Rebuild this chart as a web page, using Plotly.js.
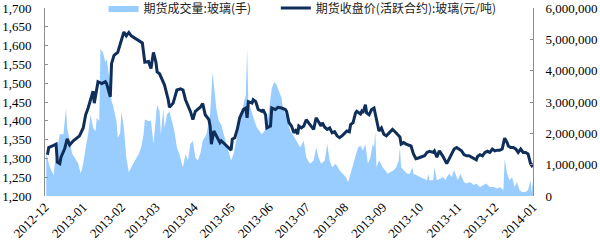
<!DOCTYPE html>
<html><head><meta charset="utf-8">
<script src="https://cdn.plot.ly/plotly-3.0.1.min.js"></script>
<style>html,body{margin:0;padding:0;background:#fff;}#chart{width:600px;height:244px;}</style>
</head><body><div id="chart"></div>
<script>
var volumeName = '期货成交量:玻璃(手)';
var priceName = '期货收盘价(活跃合约):玻璃(元/吨)';

var priceDates = ['2012-12-03','2012-12-04','2012-12-07','2012-12-10','2012-12-11','2012-12-13','2012-12-14','2012-12-17','2012-12-19','2012-12-21','2012-12-24','2012-12-27','2012-12-29',
'2013-01-01','2013-01-03','2013-01-05','2013-01-07','2013-01-09','2013-01-10','2013-01-12','2013-01-13','2013-01-16','2013-01-19','2013-01-20','2013-01-23','2013-01-24','2013-01-26','2013-01-29',
'2013-02-01','2013-02-03','2013-02-05','2013-02-07','2013-02-09','2013-02-13','2013-02-17','2013-02-18','2013-02-20','2013-02-23','2013-02-25','2013-02-27',
'2013-03-01','2013-03-02','2013-03-04','2013-03-07','2013-03-08','2013-03-11','2013-03-12','2013-03-15','2013-03-18','2013-03-21','2013-03-23','2013-03-25','2013-03-29','2013-03-31',
'2013-04-02','2013-04-06','2013-04-08','2013-04-10','2013-04-13','2013-04-14','2013-04-15','2013-04-17','2013-04-19','2013-04-21','2013-04-22','2013-04-23','2013-04-26','2013-04-29',
'2013-05-01','2013-05-02','2013-05-04','2013-05-06','2013-05-08','2013-05-11','2013-05-13','2013-05-14','2013-05-15','2013-05-18','2013-05-19','2013-05-21','2013-05-23','2013-05-26','2013-05-27','2013-05-29','2013-05-30',
'2013-06-02','2013-06-03','2013-06-06','2013-06-08','2013-06-11','2013-06-14','2013-06-15','2013-06-17','2013-06-19','2013-06-21','2013-06-23','2013-06-24','2013-06-25','2013-06-27','2013-06-29',
'2013-07-01','2013-07-04','2013-07-05','2013-07-07','2013-07-09','2013-07-11','2013-07-13','2013-07-14','2013-07-16','2013-07-18','2013-07-20','2013-07-22','2013-07-24','2013-07-26','2013-07-28','2013-07-30',
'2013-08-01','2013-08-03','2013-08-05','2013-08-06','2013-08-08','2013-08-10','2013-08-11','2013-08-14','2013-08-15','2013-08-16','2013-08-18','2013-08-19','2013-08-21','2013-08-23','2013-08-25','2013-08-26','2013-08-28','2013-08-29','2013-08-31',
'2013-09-02','2013-09-04','2013-09-06','2013-09-08','2013-09-09','2013-09-11','2013-09-13','2013-09-15','2013-09-16','2013-09-18','2013-09-20','2013-09-22','2013-09-24','2013-09-26','2013-09-28','2013-09-30',
'2013-10-03','2013-10-05','2013-10-07','2013-10-09','2013-10-12','2013-10-13','2013-10-15','2013-10-17','2013-10-19','2013-10-20','2013-10-23','2013-10-25','2013-10-27','2013-10-29','2013-10-31',
'2013-11-02','2013-11-04','2013-11-06','2013-11-08','2013-11-10','2013-11-12','2013-11-14','2013-11-16','2013-11-17','2013-11-19','2013-11-21','2013-11-23','2013-11-25','2013-11-27','2013-11-29',
'2013-12-01','2013-12-03','2013-12-05','2013-12-07','2013-12-09','2013-12-11','2013-12-12','2013-12-14','2013-12-16','2013-12-18','2013-12-20','2013-12-22','2013-12-24','2013-12-26','2013-12-28','2013-12-30','2013-12-31','2014-01-01'];

var priceValues = [1310,1329,1333,1338,1290,1286,1303,1326,1352,1336,1347,1355,1360,
1381,1416,1434,1460,1479,1447,1482,1504,1499,1504,1499,1464,1552,1574,1582,
1617,1636,1626,1635,1626,1617,1610,1607,1556,1558,1539,1582,
1556,1530,1525,1504,1495,1456,1436,1447,1482,1485,1482,1456,1425,1403,
1425,1436,1446,1416,1403,1386,1338,1373,1360,1347,1342,1347,1338,1329,
1322,1351,1355,1377,1408,1430,1434,1408,1451,1447,1456,1451,1430,1425,1430,1416,1381,
1386,1434,1430,1436,1434,1430,1425,1395,1386,1368,1377,1364,1386,1381,1386,
1403,1390,1386,1377,1408,1395,1386,1395,1383,1377,1381,1368,1371,1360,1355,1360,
1368,1373,1371,1390,1395,1421,1425,1418,1425,1421,1443,1421,1416,1430,1434,1416,1381,1373,1381,
1364,1360,1368,1373,1377,1371,1364,1357,1338,1342,1338,1336,1333,1312,1299,1301,
1305,1307,1316,1319,1316,1320,1303,1320,1310,1305,1286,1299,1312,1325,1329,
1325,1320,1310,1307,1307,1303,1301,1296,1305,1310,1307,1316,1319,1316,1325,
1320,1322,1322,1325,1354,1342,1333,1329,1329,1325,1316,1325,1316,1316,1312,1286,1281,1286];

var volumeDates = ['2012-12-02','2012-12-05','2012-12-08','2012-12-09','2012-12-12','2012-12-13','2012-12-16','2012-12-18','2012-12-19','2012-12-21','2012-12-23','2012-12-25','2012-12-28','2012-12-30',
'2013-01-01','2013-01-03','2013-01-05','2013-01-07','2013-01-09','2013-01-11','2013-01-12','2013-01-14','2013-01-15','2013-01-17','2013-01-19','2013-01-20','2013-01-21','2013-01-23','2013-01-24','2013-01-25','2013-01-28','2013-01-29','2013-01-31',
'2013-02-01','2013-02-03','2013-02-04','2013-02-05','2013-02-07','2013-02-09','2013-02-12','2013-02-15','2013-02-17','2013-02-19','2013-02-20','2013-02-23','2013-02-25','2013-02-27','2013-02-28',
'2013-03-02','2013-03-04','2013-03-05','2013-03-07','2013-03-08','2013-03-10','2013-03-12','2013-03-14','2013-03-16','2013-03-18','2013-03-20','2013-03-22','2013-03-23','2013-03-25','2013-03-27','2013-03-29','2013-03-31',
'2013-04-02','2013-04-04','2013-04-06','2013-04-08','2013-04-11','2013-04-14','2013-04-16','2013-04-17','2013-04-19','2013-04-21','2013-04-23','2013-04-25','2013-04-27','2013-04-30',
'2013-05-01','2013-05-03','2013-05-05','2013-05-07','2013-05-09','2013-05-11','2013-05-13','2013-05-14','2013-05-15','2013-05-18','2013-05-20','2013-05-22','2013-05-24','2013-05-26','2013-05-28','2013-05-30',
'2013-06-01','2013-06-03','2013-06-05','2013-06-07','2013-06-09','2013-06-11','2013-06-12','2013-06-15','2013-06-18','2013-06-20','2013-06-23','2013-06-26','2013-06-29',
'2013-07-01','2013-07-04','2013-07-07','2013-07-09','2013-07-11','2013-07-13','2013-07-16','2013-07-18','2013-07-20','2013-07-22','2013-07-25','2013-07-28','2013-07-31',
'2013-08-02','2013-08-04','2013-08-06','2013-08-08','2013-08-10','2013-08-12','2013-08-14','2013-08-16','2013-08-18','2013-08-20','2013-08-22','2013-08-24','2013-08-25','2013-08-26','2013-08-27','2013-08-29','2013-08-30',
'2013-09-01','2013-09-03','2013-09-05','2013-09-07','2013-09-10','2013-09-12','2013-09-14','2013-09-15','2013-09-16','2013-09-18','2013-09-21','2013-09-23','2013-09-25','2013-09-26','2013-09-29',
'2013-10-01','2013-10-04','2013-10-07','2013-10-08','2013-10-09','2013-10-12','2013-10-13','2013-10-15','2013-10-18','2013-10-20','2013-10-22','2013-10-23','2013-10-25','2013-10-27','2013-10-29','2013-10-31',
'2013-11-01','2013-11-03','2013-11-06','2013-11-08','2013-11-11','2013-11-14','2013-11-16','2013-11-19','2013-11-22','2013-11-24','2013-11-27','2013-11-30',
'2013-12-03','2013-12-05','2013-12-08','2013-12-09','2013-12-11','2013-12-13','2013-12-15','2013-12-17','2013-12-19','2013-12-21','2013-12-23','2013-12-26','2013-12-28','2013-12-30','2013-12-31','2014-01-01'];

var volumeValues = [1350000,920000,660000,1040000,1760000,1970000,1970000,2800000,2180000,1760000,1350000,1230000,1030000,710000,
1030000,1550000,1970000,2600000,2180000,2070000,2490000,2390000,4690000,4590000,4270000,4380000,4060000,3540000,3020000,2910000,2390000,1860000,2000000,
2700000,2180000,1760000,1230000,760000,920000,1130000,1340000,1550000,1970000,2440000,2390000,2390000,1660000,2180000,
2910000,2700000,1970000,2800000,2180000,2600000,2700000,2390000,2070000,1550000,1340000,1030000,920000,1340000,1130000,1660000,1760000,
1230000,1130000,1350000,1760000,1970000,2600000,3960000,3540000,2800000,2390000,2280000,1970000,1660000,1230000,
1130000,1340000,1760000,2070000,2490000,2910000,3230000,4690000,3020000,2600000,2390000,2180000,2070000,1970000,2070000,2180000,
2800000,3430000,3640000,3540000,3330000,3120000,2800000,2500000,2070000,1970000,1760000,1550000,1760000,
1230000,1030000,1130000,1550000,1230000,1030000,1130000,1660000,1130000,920000,1030000,820000,710000,
610000,450000,710000,1030000,1230000,1550000,1600000,1450000,1650000,1030000,1230000,1660000,1550000,2070000,920000,1130000,1080000,
920000,820000,710000,760000,820000,920000,1130000,1550000,920000,820000,710000,710000,920000,710000,660000,
610000,560000,500000,710000,500000,500000,920000,500000,560000,610000,500000,610000,710000,610000,820000,610000,
500000,710000,450000,400000,450000,350000,400000,290000,350000,400000,290000,290000,
240000,290000,190000,1180000,710000,500000,610000,290000,450000,190000,130000,130000,190000,500000,100000,500000];

var serif = 'Liberation Serif, Times New Roman, serif';
var cjk = 'Noto Sans CJK SC, sans-serif';

var traces = [
  {type:'scatter', mode:'lines', name: volumeName, x: volumeDates, y: volumeValues, yaxis:'y', xaxis:'x',
   fill:'tozeroy', fillcolor:'#99ccff', line:{width:0, color:'#99ccff'}, hoverinfo:'skip', legend:'legend'},
  {type:'scatter', mode:'lines', name: priceName, x: priceDates, y: priceValues, yaxis:'y2', xaxis:'x',
   line:{width:3, color:'#0f2e5a'}, legend:'legend2'}
];

var xRange = ['2012-12-01','2014-01-01'];
var legendFont = {family:cjk, size:12, color:'#222'};
var layout = {
  width:600, height:244,
  margin:{l:45, r:67, t:8, b:48, pad:0, autoexpand:false},
  paper_bgcolor:'#fff', plot_bgcolor:'rgba(0,0,0,0)',
  showlegend:true,
  legend:{orientation:'h', x:0.12, xanchor:'left', y:1.0, yanchor:'middle',
          font:legendFont, bgcolor:'rgba(0,0,0,0)'},
  legend2:{orientation:'h', x:0.473, xanchor:'left', y:1.0, yanchor:'middle',
          font:legendFont, bgcolor:'rgba(0,0,0,0)'},
  xaxis:{type:'date', range:xRange, dtick:'M1', tick0:'2012-12-01', tickformat:'%Y-%m',
         tickangle:-45, showgrid:false, zeroline:false, showline:false, ticks:'',
         tickfont:{family:serif, size:13, color:'#000'}},
  xaxis2:{type:'date', range:xRange, overlaying:'x', anchor:'free', position:0.2,
          dtick:'M1', tick0:'2012-12-01', showticklabels:false, showgrid:false, zeroline:false,
          showline:true, linecolor:'#8c8c8c', linewidth:1, ticks:'inside', ticklen:4, tickcolor:'#8c8c8c'},
  yaxis:{range:[0,6000000], dtick:1000000, tickformat:',d', side:'right', showgrid:false, zeroline:false,
         showline:true, linecolor:'#8c8c8c', ticks:'inside', ticklen:3, tickcolor:'#8c8c8c', ticklabeloverflow:'allow',
         ticklabelstandoff:9, tickfont:{family:serif, size:13, color:'#000'}},
  yaxis2:{range:[1200,1700], dtick:50, tickformat:',d', side:'left', overlaying:'y', showgrid:false, zeroline:false,
          showline:true, linecolor:'#8c8c8c', ticks:'inside', ticklen:3, tickcolor:'#8c8c8c', ticklabeloverflow:'allow',
          ticklabelstandoff:10, tickfont:{family:serif, size:13, color:'#000'}}
};

Plotly.newPlot('chart', traces, layout, {displayModeBar:false, staticPlot:true});
</script>
</body></html>
